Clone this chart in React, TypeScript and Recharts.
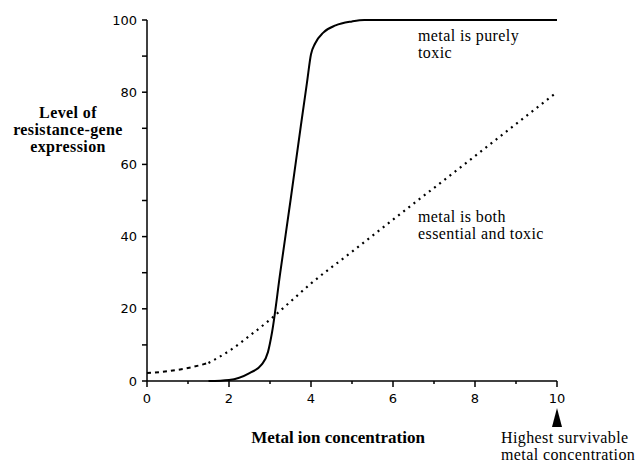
import { LineChart, Line, XAxis, YAxis, Customized } from 'recharts';

// solid curve: metal is purely toxic
const toxicX = [1.5, 2, 2.5, 2.8, 2.95, 3.05, 3.25, 3.5, 3.75, 3.9, 4, 4.1, 4.3, 4.6, 5, 5.3, 10];
const toxicY = [0, 0.3, 2.2, 4.6, 8, 13.5, 30, 50, 70.5, 82.5, 90.5, 93.5, 96.5, 98.5, 99.6, 100, 100];

// dashed/dotted curve: metal is both essential and toxic
const bothX = [0, 0.5, 1, 1.5, 2, 2.5, 3, 3.5, 4, 5, 6, 7, 8, 9, 10];
const bothY = [2.2, 2.7, 3.6, 5, 8.3, 12.5, 17, 22, 27, 35.8, 44.7, 53.5, 62.3, 71.2, 80];
const dashEnd = 1.5;

const xTicks = [0, 1, 2, 3, 4, 5, 6, 7, 8, 9, 10];
const yTicks = [0, 10, 20, 30, 40, 50, 60, 70, 80, 90, 100];

const toxicData = toxicX.map((x, i) => ({ x, y: toxicY[i] }));
const bothData = bothX.map((x, i) => ({ x, y: bothY[i] }));
const dashedData = bothData.filter((d) => d.x <= dashEnd);
const dottedData = bothData.filter((d) => d.x >= dashEnd);

const SERIF = '"Liberation Serif", "Times New Roman", serif';
const SANS = '"DejaVu Sans", sans-serif';
const NOTE = { fontFamily: SERIF, fontSize: 16, letterSpacing: 0.4 };

const XTick = (props: any) => {
    const { x, y, payload } = props;
    const v = payload.value;
    const major = v % 2 === 0;
    return (
        <g>
            <line x1={x} y1={y} x2={x} y2={y + (major ? 6 : 3)} stroke="#000" strokeWidth={1.5} />
            {major && (
                <text x={x} y={y + 22} textAnchor="middle" fontFamily={SANS} fontSize={13} fill="#000">
                    {v}
                </text>
            )}
            {v === 10 && (
                <g>
                    <polygon points={`${x},${y + 27} ${x - 5},${y + 46} ${x + 5},${y + 46}`} fill="#000" />
                    <text {...NOTE} fill="#000">
                        <tspan x={x - 56} y={y + 62}>Highest survivable</tspan>
                        <tspan x={x - 56} y={y + 79}>metal concentration</tspan>
                    </text>
                </g>
            )}
        </g>
    );
};

const YTick = (props: any) => {
    const { x, y, payload } = props;
    const v = payload.value;
    const major = v % 20 === 0;
    return (
        <g>
            <line x1={x - 5} y1={y} x2={x} y2={y} stroke="#000" strokeWidth={1.5} />
            {major && (
                <text x={x - 10} y={y} textAnchor="end" dominantBaseline="central" fontFamily={SANS} fontSize={13} fill="#000">
                    {v}
                </text>
            )}
        </g>
    );
};

const Notes = () => (
    <g fill="#000">
        <text textAnchor="middle" {...NOTE} fontWeight="bold">
            <tspan x={68} y={118}>Level of</tspan>
            <tspan x={68} y={135}>resistance-gene</tspan>
            <tspan x={68} y={152}>expression</tspan>
        </text>
        <text x={338} y={443} textAnchor="middle" fontFamily={SERIF} fontSize={17} fontWeight="bold">Metal ion concentration</text>
        <text {...NOTE}>
            <tspan x={418} y={41}>metal is purely</tspan>
            <tspan x={418} y={58}>toxic</tspan>
        </text>
        <text {...NOTE}>
            <tspan x={418} y={222}>metal is both</tspan>
            <tspan x={418} y={239}>essential and toxic</tspan>
        </text>
    </g>
);

const App = () => {
    return (
        <div style={{ position: 'absolute', left: 0, top: 0, width: 638, height: 462, background: '#fff' }}>
            <LineChart width={638} height={462} margin={{ top: 20, right: 81, bottom: 51, left: 0 }}>
                <XAxis
                    type="number"
                    dataKey="x"
                    domain={[0, 10]}
                    ticks={xTicks}
                    tick={<XTick />}
                    tickLine={false}
                    tickSize={0}
                    tickMargin={0}
                    height={30}
                    axisLine={{ stroke: '#000', strokeWidth: 1.5 }}
                    allowDuplicatedCategory={false}
                />
                <YAxis
                    type="number"
                    dataKey="y"
                    domain={[0, 100]}
                    ticks={yTicks}
                    tick={<YTick />}
                    tickLine={false}
                    tickSize={0}
                    tickMargin={0}
                    width={147}
                    axisLine={{ stroke: '#000', strokeWidth: 1.5 }}
                />
                <Line data={toxicData} dataKey="y" type="monotone" stroke="#000" strokeWidth={2} dot={false} isAnimationActive={false} />
                <Line data={dashedData} dataKey="y" type="monotone" stroke="#000" strokeWidth={2} strokeDasharray="4 4" dot={false} isAnimationActive={false} />
                <Line data={dottedData} dataKey="y" type="monotone" stroke="#000" strokeWidth={2.2} strokeDasharray="2 4.5" dot={false} isAnimationActive={false} />
                <Customized component={<Notes />} />
            </LineChart>
        </div>
    );
};

export default App;
